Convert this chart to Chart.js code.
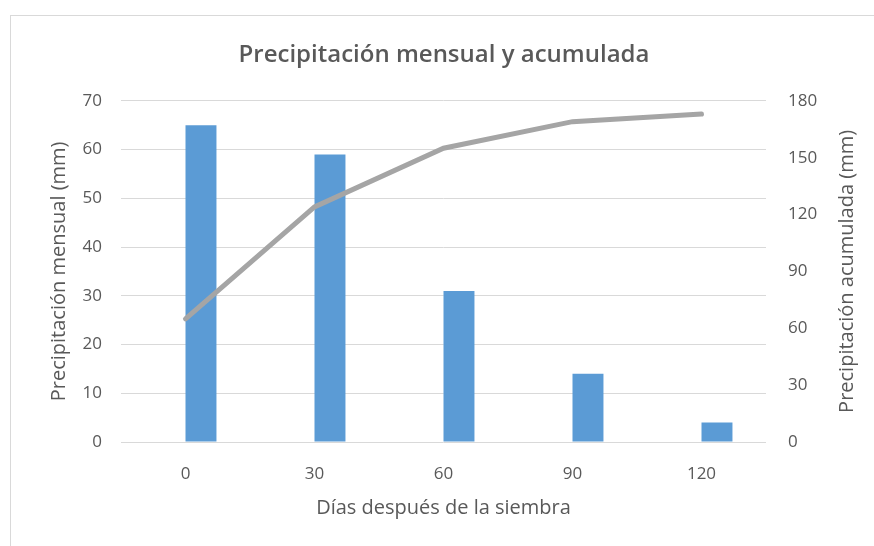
<!DOCTYPE html>
<html>
<head>
<meta charset="utf-8">
<script src="https://cdn.jsdelivr.net/npm/chart.js@4/dist/chart.umd.min.js"></script>
<style>
  html, body { margin: 0; padding: 0; background: #fff; }
  #marco { position: absolute; left: 10px; top: 15px; width: 900px; height: 600px; border: 1px solid #d9d9d9; }
  #wrap { position: absolute; left: 0; top: 0; width: 874px; height: 546px; }
</style>
</head>
<body>
<div id="marco"></div>
<div id="wrap"><canvas id="chart" width="874" height="546"></canvas></div>
<script>
// datos
const dias = ['0', '30', '60', '90', '120'];
const precipMensual = [65, 59, 31, 14, 4];
const precipAcumulada = [65, 124, 155, 169, 173];
const serieVacia = [null, null, null, null, null];
const ticksMensual = [0, 10, 20, 30, 40, 50, 60, 70];
const ticksAcumulada = [0, 30, 60, 90, 120, 150, 180];

const gris = '#595959';
const fuente = "'Open Sans', sans-serif";
const tituloDerecho = 'Precipitación acumulada (mm)';

// titulo del eje derecho, escrito de abajo hacia arriba como en el original
const tituloY1 = {
    id: 'tituloY1',
    afterDraw(chart) {
        const s = chart.scales.y1;
        const ctx = chart.ctx;
        ctx.save();
        ctx.translate(847, (s.top + s.bottom) / 2);
        ctx.rotate(-Math.PI / 2);
        ctx.fillStyle = gris;
        ctx.font = "20px " + fuente;
        ctx.textAlign = 'center';
        ctx.textBaseline = 'middle';
        ctx.fillText(tituloDerecho, 0, 0);
        ctx.restore();
    }
};

var data = {
    labels: dias,
    datasets: [{
        type: 'line',
        label: 'Precipitación acumulada',
        data: precipAcumulada,
        yAxisID: 'y1',
        borderColor: '#a5a5a5',
        borderWidth: 5,
        borderCapStyle: 'round',
        pointRadius: 0,
        tension: 0,
        order: 0
    }, {
        type: 'bar',
        label: '',
        data: serieVacia,
        yAxisID: 'y',
        backgroundColor: '#5b9bd5',
        order: 1
    }, {
        type: 'bar',
        label: 'Precipitación mensual',
        data: precipMensual,
        yAxisID: 'y',
        backgroundColor: '#5b9bd5',
        order: 1
    }]
};

var options = {
    responsive: false,
    animation: false,
    layout: { padding: { left: 26, right: 12, top: 0, bottom: 24 } },
    datasets: { bar: { categoryPercentage: 0.48, barPercentage: 1 } },
    plugins: {
        legend: { display: false },
        tooltip: { enabled: false },
        title: {
            display: true,
            text: 'Precipitación mensual y acumulada',
            color: gris,
            font: { family: fuente, size: 24, weight: '600' },
            padding: { top: 41, bottom: 31 }
        }
    },
    scales: {
        x: {
            grid: { display: false },
            border: { display: false },
            ticks: { color: gris, font: { family: fuente, size: 17 }, padding: 14 },
            title: {
                display: true, text: 'Días después de la siembra', color: gris,
                font: { family: fuente, size: 20 }, padding: { top: 0, bottom: 2 }
            },
            afterFit: function (s) { s.height = 80; }
        },
        y: {
            position: 'left',
            min: 0, max: 70,
            afterBuildTicks: function (s) { s.ticks = ticksMensual.map(v => ({ value: v })); },
            grid: { color: '#d9d9d9', drawTicks: false },
            border: { display: false },
            ticks: { color: gris, font: { family: fuente, size: 17 }, padding: 19 },
            title: {
                display: true, text: 'Precipitación mensual (mm)', color: gris,
                font: { family: fuente, size: 20 }, padding: { top: 21, bottom: 0 }
            },
            afterFit: function (s) { s.width = 95; }
        },
        y1: {
            position: 'right',
            min: 0, max: 180,
            afterBuildTicks: function (s) { s.ticks = ticksAcumulada.map(v => ({ value: v })); },
            grid: { display: false, drawTicks: false },
            border: { display: false },
            ticks: { color: gris, font: { family: fuente, size: 17 }, padding: 22 },
            afterFit: function (s) { s.width = 96; }
        }
    }
};

new Chart('chart', { data: data, options: options, plugins: [tituloY1] });
</script>
</body>
</html>
